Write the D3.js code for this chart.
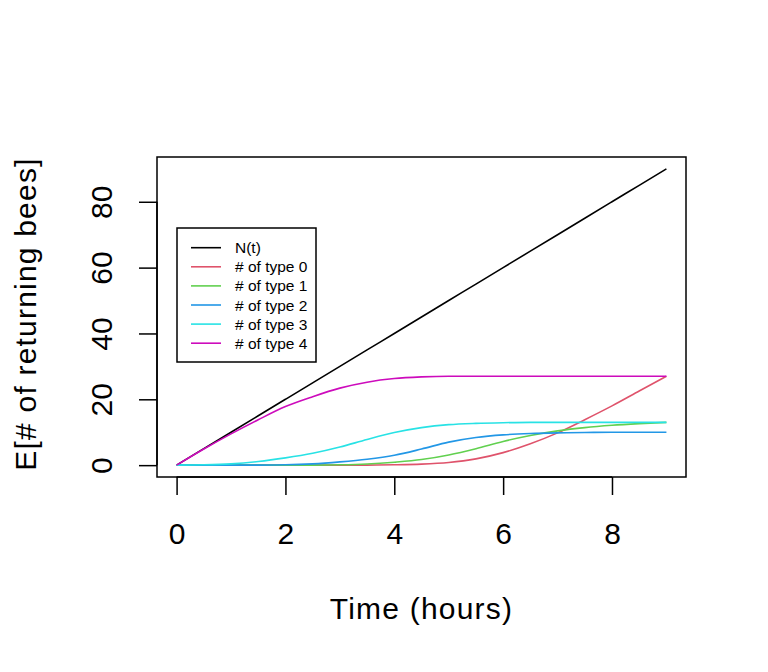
<!DOCTYPE html>
<html>
<head>
<meta charset="utf-8">
<script src="https://cdn.jsdelivr.net/npm/d3@7"></script>
<style>
  html, body { margin: 0; padding: 0; background: #fff; }
  svg { display: block; }
  text { font-family: "Liberation Sans", Arial, sans-serif; fill: #000; }
</style>
</head>
<body>
<svg id="chart" width="768" height="672"></svg>
<script>
// ---- Data ----
const time = [0, 0.5, 1, 1.5, 2, 2.5, 3, 3.5, 4, 4.5, 5, 5.5, 6, 6.5, 7, 7.5, 8, 8.5, 9];
const nTotal = [0, 5, 10, 15, 20, 25, 30, 35, 40, 45, 50, 55, 60, 65, 70, 75, 80, 85, 90];
const type0 = [0, 0, 0, 0, 0, 0, 0, 0.02, 0.1, 0.3, 0.8, 1.9, 3.8, 6.5, 9.8, 13.8, 18.0, 22.5, 27];
const type1 = [0, 0, 0, 0, 0, 0.02, 0.1, 0.35, 0.9, 1.7, 3.1, 5.0, 7.2, 9.0, 10.4, 11.4, 12.1, 12.6, 13];
const type2 = [0, 0, 0, 0.02, 0.1, 0.4, 1.0, 1.8, 3.0, 4.9, 7.0, 8.4, 9.2, 9.6, 9.8, 9.9, 10, 10, 10];
const type3 = [0, 0.1, 0.4, 1.1, 2.2, 3.6, 5.5, 7.8, 9.9, 11.4, 12.3, 12.7, 12.9, 13, 13, 13, 13, 13, 13];
const type4 = [0, 4.9, 9.5, 13.8, 17.8, 20.8, 23.4, 25.2, 26.3, 26.8, 27.0, 27, 27, 27, 27, 27, 27, 27, 27];

const seriesNames = ["N(t)", "# of type 0", "# of type 1", "# of type 2", "# of type 3", "# of type 4"];
const seriesValues = [nTotal, type0, type1, type2, type3, type4];
const seriesColors = ["#000000", "#DF536B", "#61D04F", "#2297E6", "#28E2E5", "#CD0BBC"];

const xTicks = [0, 2, 4, 6, 8];
const yTicks = [0, 20, 40, 60, 80];
const xLabel = "Time (hours)";
const yLabel = "E[# of returning bees]";

// ---- Layout ----
const plot = { left: 157, right: 686, top: 157, bottom: 477 };
const xMin = 0, xMax = 9, yMin = 0, yMax = 90;
const xPad = (xMax - xMin) * 0.04, yPad = (yMax - yMin) * 0.04;
const FS = 30, LS = 1.2;

const x = d3.scaleLinear().domain([xMin - xPad, xMax + xPad]).range([plot.left, plot.right]);
const y = d3.scaleLinear().domain([yMin - yPad, yMax + yPad]).range([plot.bottom, plot.top]);

const svg = d3.select("#chart");

// Lines
const line = d3.line()
  .x((d, i) => x(time[i]))
  .y(d => y(d))
  .curve(d3.curveMonotoneX);

const g = svg.append("g");
seriesValues.forEach((vals, k) => {
  g.append("path")
    .datum(vals)
    .attr("d", line)
    .attr("fill", "none")
    .attr("stroke", seriesColors[k])
    .attr("stroke-width", 1.6)
    .attr("stroke-linejoin", "round");
});

// Plot box
svg.append("rect")
  .attr("x", plot.left).attr("y", plot.top)
  .attr("width", plot.right - plot.left).attr("height", plot.bottom - plot.top)
  .attr("fill", "none").attr("stroke", "#000").attr("stroke-width", 1.5);

// X axis
const xAxis = d3.axisBottom(x).tickValues(xTicks).tickSize(18).tickPadding(28).tickFormat(d3.format("d"));
const gx = svg.append("g").attr("transform", `translate(0,${plot.bottom})`).call(xAxis);
gx.select(".domain").attr("d", `M${x(xTicks[0])},0H${x(xTicks[xTicks.length - 1])}`).attr("stroke-width", 1.5);
gx.selectAll(".tick line").attr("stroke-width", 1.5);
gx.selectAll(".tick text").attr("font-size", FS).attr("font-family", "Liberation Sans, Arial, sans-serif");

// Y axis
const yAxis = d3.axisLeft(y).tickValues(yTicks).tickSize(18).tickPadding(0).tickFormat(d3.format("d"));
const gy = svg.append("g").attr("transform", `translate(${plot.left},0)`).call(yAxis);
gy.select(".domain").attr("d", `M0,${y(yTicks[0])}V${y(yTicks[yTicks.length - 1])}`).attr("stroke-width", 1.5);
gy.selectAll(".tick line").attr("stroke-width", 1.5);
gy.selectAll(".tick text")
  .attr("font-size", FS)
  .attr("font-family", "Liberation Sans, Arial, sans-serif")
  .attr("text-anchor", "middle")
  .attr("dy", null)
  .attr("x", null)
  .attr("transform", "translate(-45,0) rotate(-90)");

// Axis titles
svg.append("text")
  .attr("x", (plot.left + plot.right) / 2)
  .attr("y", 619)
  .attr("text-anchor", "middle")
  .attr("font-size", FS)
  .attr("letter-spacing", LS)
  .text(xLabel);

svg.append("text")
  .attr("transform", `translate(36,${(plot.top + plot.bottom) / 2 - 3}) rotate(-90)`)
  .attr("text-anchor", "middle")
  .attr("font-size", FS)
  .attr("letter-spacing", LS)
  .text(yLabel);

// Legend
const legend = svg.append("g").attr("transform", "translate(177,228)");
legend.append("rect")
  .attr("x", 0).attr("y", 0).attr("width", 139).attr("height", 134)
  .attr("fill", "#fff").attr("stroke", "#000").attr("stroke-width", 1.5);
seriesNames.forEach((name, k) => {
  const yy = 19.7 + k * 19.1;
  legend.append("line")
    .attr("x1", 14).attr("x2", 44).attr("y1", yy).attr("y2", yy)
    .attr("stroke", seriesColors[k]).attr("stroke-width", 1.6);
  legend.append("text")
    .attr("x", 58).attr("y", yy)
    .attr("dominant-baseline", "central")
    .attr("font-size", 15.5)
    .text(name);
});
</script>
</body>
</html>
